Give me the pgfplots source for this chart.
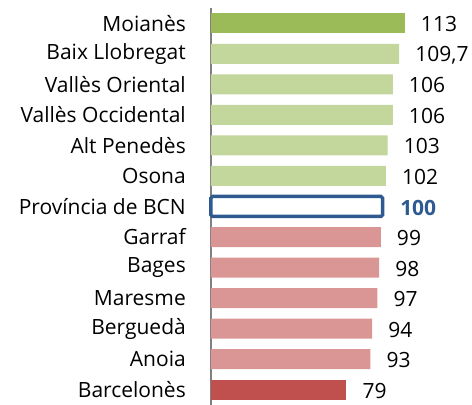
\documentclass[border=0pt]{standalone}
\usepackage{pgfplots}
\pgfplotsset{compat=1.18}
\usepackage{fontspec}
\setmainfont{Open Sans}
\definecolor{dgreen}{HTML}{9BBB59}
\definecolor{lgreen}{HTML}{C3D69B}
\definecolor{lred}{HTML}{D99694}
\definecolor{dred}{HTML}{C0504D}
\definecolor{bblue}{HTML}{2F5A91}
\begin{document}
\begin{tikzpicture}
\begin{axis}[
  at={(0,0)}, anchor=south west,
  scale only axis,
  width=193.8bp, height=397bp,
  xmin=0, xmax=113,
  ymin=-0.5, ymax=12.5,
  xbar, bar width=20bp, bar shift=0pt,
  hide x axis,
  axis y line=left,
  y axis line style={-, draw=gray, line width=2bp},
  ytick={0,...,12},
  yticklabels={Barcelonès,Anoia,Berguedà,Maresme,Bages,Garraf,Província de BCN,Osona,Alt Penedès,Vallès Occidental,Vallès Oriental,Baix Llobregat,Moianès},
  major tick length=0pt,
  yticklabel style={font=\fontsize{21bp}{24bp}\selectfont, anchor=east, inner sep=0pt, xshift=-25bp},
  clip=false,
  nodes near coords={\pgfmathprintnumber[use comma, precision=1]{\pgfplotspointmeta}},
  nodes near coords style={font=\fontsize{21bp}{24bp}\selectfont, anchor=west, inner sep=0pt, xshift=16bp, yshift=-1bp, /pgf/number format/assume math mode=true},
  point meta=explicit,
]
\addplot[fill=dgreen, draw=none] coordinates {(113,12) [113]};
\addplot[fill=lgreen, draw=none] coordinates {(109.7,11) [109.7] (106,10) [106] (106,9) [106] (103,8) [103] (102,7) [102]};
\addplot[fill=white, draw=bblue, line width=3.5bp, rounded corners=1.5bp, nodes near coords style={text=bblue, font=\fontsize{21bp}{24bp}\selectfont\bfseries}] coordinates {(100,6) [100]};
\addplot[fill=lred, draw=none] coordinates {(99,5) [99] (98,4) [98] (97,3) [97] (94,2) [94] (93,1) [93]};
\addplot[fill=dred, draw=none] coordinates {(79,0) [79]};
\end{axis}
\pgfresetboundingbox
\path (-211bp,0) rectangle (261bp,405bp);
\end{tikzpicture}
\end{document}
